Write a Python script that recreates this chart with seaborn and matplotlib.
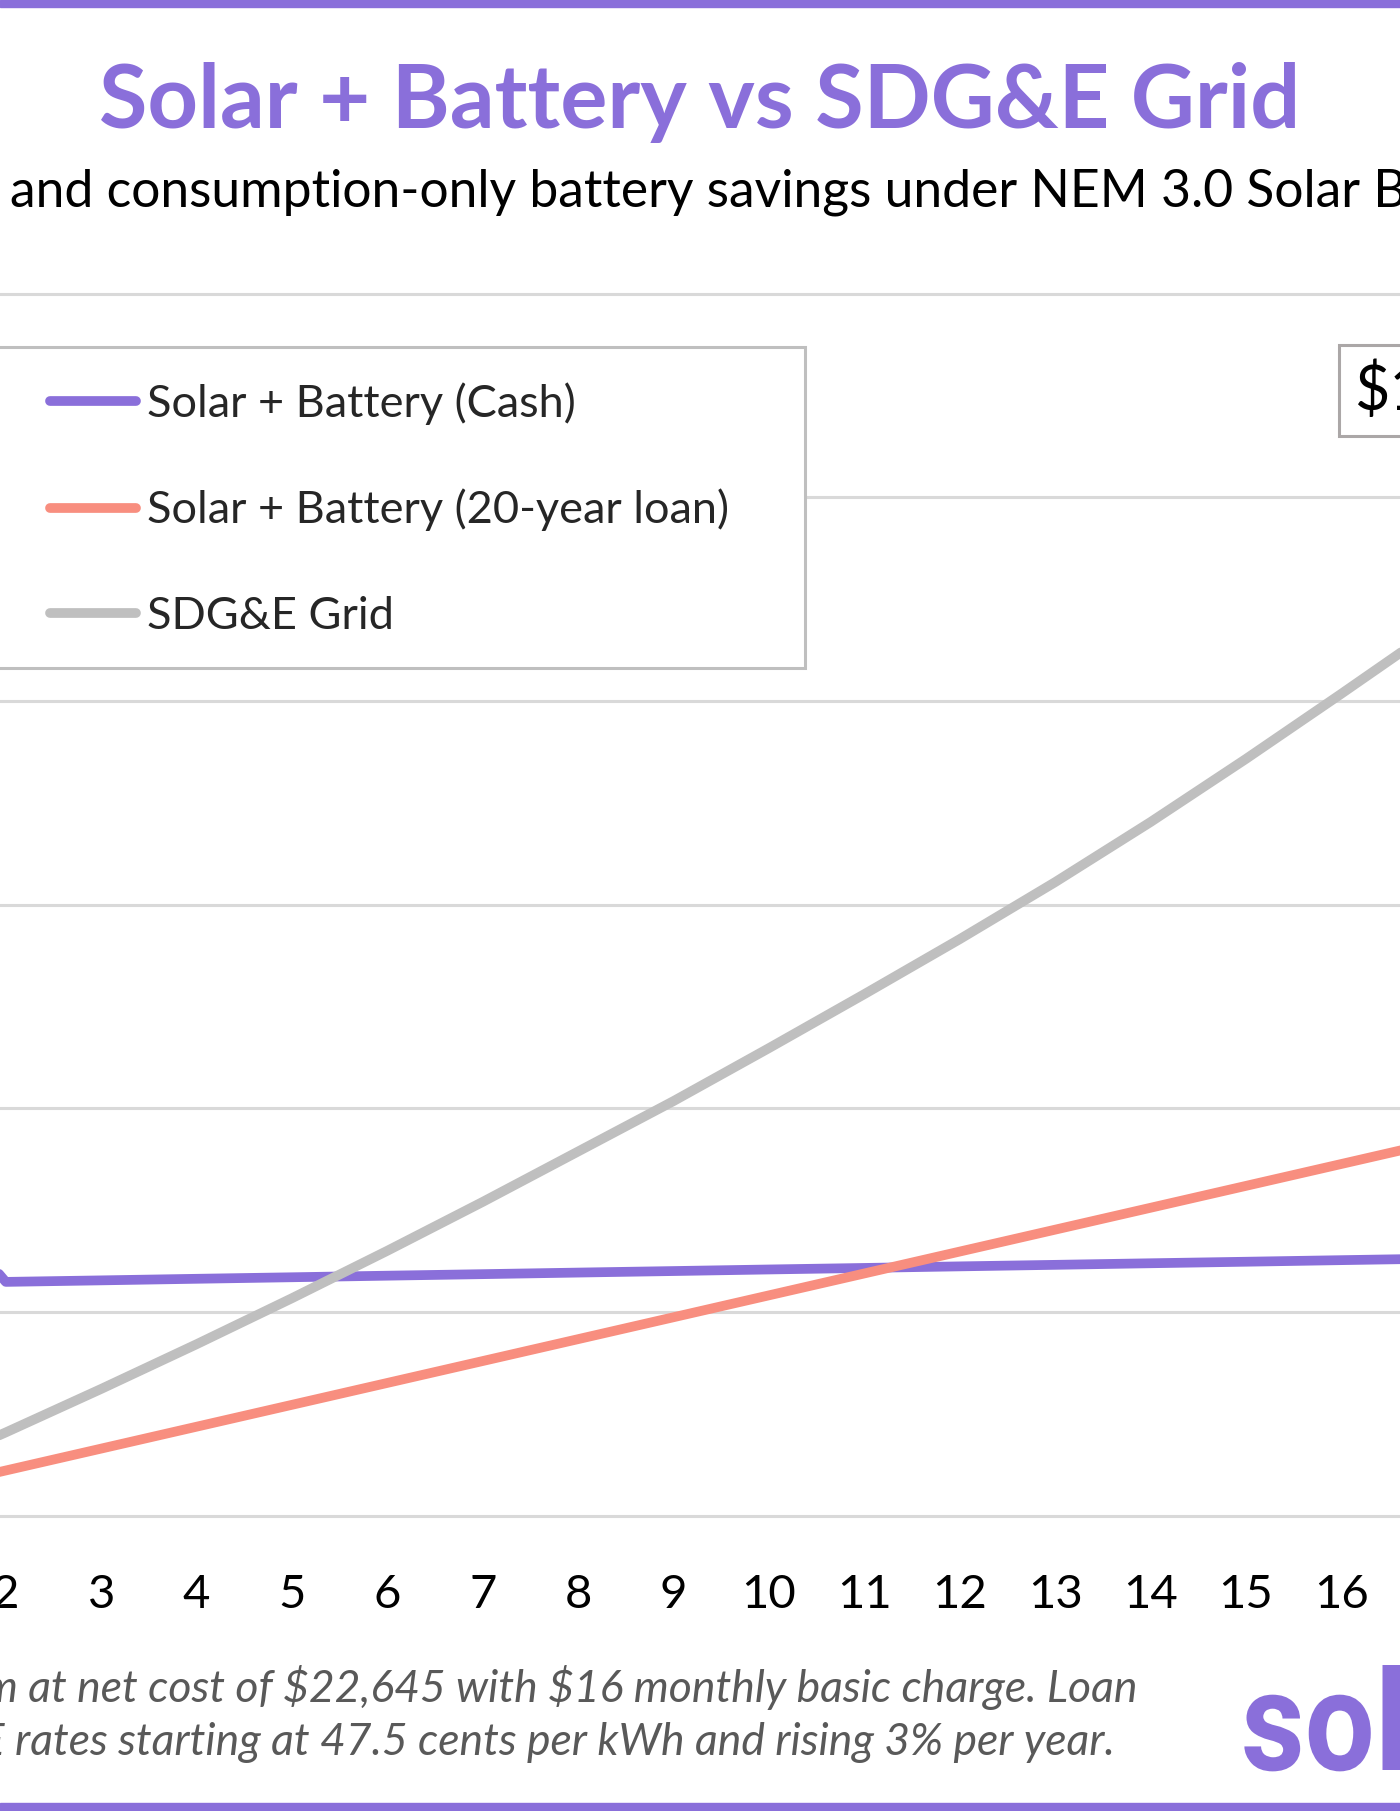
import numpy as np
import pandas as pd
import matplotlib.pyplot as plt
import matplotlib.transforms as mtransforms
from matplotlib.patches import Rectangle, PathPatch
from matplotlib.textpath import TextPath
from matplotlib.font_manager import FontProperties
import seaborn as sns

# ---- colours ----
PURPLE = "#8A6FDA"
SALMON = "#F88E7F"
GREY = "#BFBFBF"
GRID = "#D9D9D9"
NOTE = "#595959"

# ---- data (cumulative cost in dollars) ----
years = list(range(1, 21))
cash_cost = [34000, 22940, 23090, 23245, 23395, 23550, 23700, 23855, 24005, 24160,
             24310, 24465, 24615, 24770, 24920, 25075, 25225, 25380, 25530, 25685]
loan_cost = [2270, 4420, 6570, 8720, 10870, 13020, 15170, 17320, 19470, 21620,
             23770, 25920, 28070, 30220, 32370, 34520, 36670, 38820, 40970, 43120]
grid_cost = [4020, 8160, 12430, 16820, 21340, 26000, 30800, 35750, 40700, 45900,
             51200, 56600, 62200, 68100, 74300, 80700, 87200, 93900, 100800, 107900]
series_names = ["Solar + Battery (Cash)", "Solar + Battery (20-year loan)", "SDG&E Grid"]
y_ticks = [0, 20000, 40000, 60000, 80000, 100000, 120000]

df = pd.DataFrame({
    "year": years * 3,
    "cost": cash_cost + loan_cost + grid_cost,
    "series": [series_names[0]] * len(years) + [series_names[1]] * len(years)
              + [series_names[2]] * len(years),
})

sns.set_style("white")
plt.rcParams["font.family"] = ["Lato", "DejaVu Sans"]

W, H = 1400, 1811
fig = plt.figure(figsize=(W / 100, H / 100), dpi=100, facecolor="white")

# axes run past the figure edges (the picture is a crop of a wider chart)
ax_left, ax_right = -137.3, 1770.7
ax_top, ax_bottom = 293.5, 1515.5
ax = fig.add_axes([ax_left / W, 1 - ax_bottom / H,
                   (ax_right - ax_left) / W, (ax_bottom - ax_top) / H])

sns.lineplot(data=df, x="year", y="cost", hue="series", hue_order=series_names,
             palette=[PURPLE, SALMON, GREY], linewidth=7, ax=ax)

ax.set_xlim(0.5, 20.5)
ax.set_ylim(0, 120000)
ax.set_xticks(years)
ax.set_xticklabels([str(y) for y in years])
ax.set_yticks(y_ticks)
ax.set_yticklabels([])
ax.set_xlabel("")
ax.set_ylabel("")
ax.tick_params(axis="x", length=0, pad=42, labelsize=34, labelcolor="black")
ax.tick_params(axis="y", length=0)
ax.grid(True, axis="y", color=GRID, linewidth=2.2)
ax.set_axisbelow(True)
for line in ax.get_ygridlines():
    line.set_clip_on(False)
for s in ax.spines.values():
    s.set_visible(False)

# legend: text + handles, with a separate square frame
handles, labels = ax.get_legend_handles_labels()
leg = ax.legend(handles, labels, loc="upper left",
                bbox_to_anchor=(50 / W, 1 - 382 / H), bbox_transform=fig.transFigure,
                frameon=False, fontsize=32.5, borderpad=0, borderaxespad=0,
                handlelength=1.91, handletextpad=0.24, labelspacing=1.42)
for h in leg.legend_handles:
    h.set_linewidth(7)
    h.set_solid_capstyle("round")
ax.add_patch(Rectangle((-10 / W, 1 - 668 / H), 815 / W, 321 / H,
                       transform=fig.transFigure, facecolor="white",
                       edgecolor=GREY, linewidth=2.2, zorder=3, clip_on=False))

# end-of-line value label for the grid series
ax.annotate(f"\\${grid_cost[-1]:,}", xy=(years[-1], grid_cost[-1]),
            xytext=(-369, 26), textcoords="offset pixels",
            ha="left", va="center", fontsize=44, color="black",
            bbox=dict(boxstyle="square,pad=0.25", facecolor="white",
                      edgecolor="#ABA7A7", linewidth=2.2))

# titles
fig.text(0.5, 1 - 128 / H, "Solar + Battery vs SDG&E Grid", ha="center",
         va="baseline", fontsize=63.5, fontweight="bold", color=PURPLE)
fig.text(10 / W, 1 - 207 / H,
         "and consumption-only battery savings under NEM 3.0 Solar Billing Plan",
         ha="left", va="baseline", fontsize=37.2, color="black")

# footnote
fig.text(1138 / W, 1 - 1702 / H,
         "system at net cost of \\$22,645 with \\$16 monthly basic charge. Loan",
         ha="right", va="baseline", fontsize=32, style="italic", color=NOTE)
fig.text(1115 / W, 1 - 1755 / H,
         "SDG&E rates starting at 47.5 cents per kWh and rising 3% per year.",
         ha="right", va="baseline", fontsize=32, style="italic", color=NOTE)

# logo - bold wordmark, squeezed horizontally
logo_path = TextPath((0, 0), "solar", size=1,
                     prop=FontProperties(family="Roboto", weight="bold"))
logo_tr = (mtransforms.Affine2D().scale(140 * 0.885 / W, 140 / H)
           .translate(1241 / W, 1 - 1770 / H) + fig.transFigure)
fig.add_artist(PathPatch(logo_path, transform=logo_tr, facecolor=PURPLE,
                         edgecolor="none"))

# purple rules top and bottom
fig.add_artist(Rectangle((0, 1 - 7 / H), 1, 7 / H, transform=fig.transFigure,
                         color=PURPLE, zorder=10))
fig.add_artist(Rectangle((0, 0), 1, 8 / H, transform=fig.transFigure,
                         color=PURPLE, zorder=10))

fig.savefig("out.png", dpi=100, facecolor="white")
